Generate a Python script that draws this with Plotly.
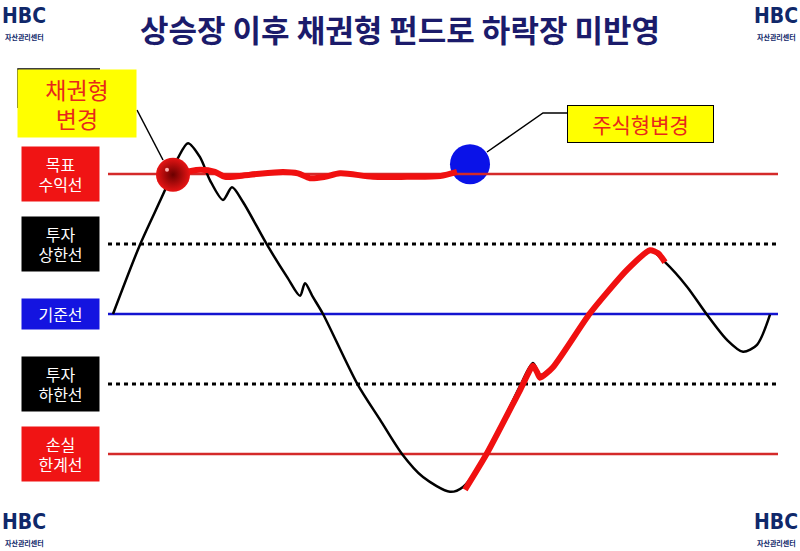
import plotly.graph_objects as go

# levels (in band units, baseline = 0)
level_names = ['목표<br>수익선', '투자<br>상한선', '기준선', '투자<br>하한선', '손실<br>한계선']
level_values = [2, 1, 0, -1, -2]

# market path
market_t = [113, 140, 165, 178, 188, 200, 210, 223, 232, 243, 267, 287, 300, 305, 313, 323,
            357, 380, 402, 423, 450, 463, 487, 520, 533, 540, 553, 590, 627, 650, 665, 687,
            707, 727, 743, 757, 770]
market_v = [0.00, 0.99, 1.77, 2.23, 2.44, 2.24, 1.91, 1.63, 1.81, 1.60, 0.99, 0.53, 0.26, 0.44, 0.24, 0.00,
            -0.99, -1.51, -2.00, -2.33, -2.54, -2.47, -1.99, -1.03, -0.70, -0.87, -0.74, 0.01, 0.63, 0.91, 0.74, 0.39,
            -0.01, -0.37, -0.54, -0.44, -0.01]

# bond fund segment (flat near target)
bond_t = [175, 200, 215, 225, 250, 283, 298, 310, 325, 340, 373, 407, 440, 457]
bond_v = [1.99, 2.06, 2.03, 1.96, 1.99, 2.03, 2.01, 1.94, 1.96, 2.01, 1.96, 1.96, 1.97, 2.03]

# equity fund segment (rebound)
equity_t = [465, 487, 520, 533, 537, 540, 553, 590, 627, 650, 658, 665]
equity_v = [-2.51, -1.99, -1.09, -0.74, -0.83, -0.91, -0.76, 0.01, 0.63, 0.91, 0.87, 0.74]

# switch points
bond_switch = (173, 1.99)
equity_switch = (470, 2.14)

title_text = '상승장 이후 채권형 펀드로 하락장 미반영'
KR = 'Noto Sans CJK KR'


def yv(py):
    # pixel row -> band units (70px per band, baseline at row 314)
    return (314 - py) / 70


fig = go.Figure()

fig.add_trace(go.Scatter(x=[equity_switch[0]], y=[equity_switch[1]], mode='markers',
                         marker=dict(size=40, color='#0a12e8', line=dict(width=0))))

level_styles = [dict(color='#d42a2a', width=2.5), dict(color='black', width=3, dash='4px,4px'),
                dict(color='#1414d0', width=2.5), dict(color='black', width=3, dash='4px,4px'),
                dict(color='#d42a2a', width=2.5)]
for v, st in zip(level_values, level_styles):
    fig.add_trace(go.Scatter(x=[108, 778], y=[v, v], mode='lines', line=st))

fig.add_trace(go.Scatter(x=market_t, y=market_v, mode='lines',
                         line=dict(color='black', width=2.5, shape='spline', smoothing=0.8)))
fig.add_trace(go.Scatter(x=bond_t, y=bond_v, mode='lines',
                         line=dict(color='#f01010', width=6, shape='spline', smoothing=0.8)))
fig.add_trace(go.Scatter(x=equity_t, y=equity_v, mode='lines',
                         line=dict(color='#f01010', width=6, shape='spline', smoothing=0.6)))

fig.add_trace(go.Scatter(x=[bond_switch[0]], y=[bond_switch[1]], mode='markers',
                         marker=dict(size=34, color='#e81414',
                                     gradient=dict(type='radial', color='#6a0000'),
                                     line=dict(width=0))))
fig.add_trace(go.Scatter(x=[bond_switch[0] - 6], y=[bond_switch[1] + 0.07], mode='markers',
                         marker=dict(size=4, color='#ffb0b0')))

# leader lines
fig.add_shape(type='line', x0=137, y0=yv(110), x1=163, y1=yv(160), line=dict(color='black', width=1.5))
fig.add_shape(type='path', path=f'M 487,{yv(152)} L 543,{yv(113)} L 567,{yv(113)}',
              line=dict(color='black', width=1.5))
fig.add_shape(type='path', path=f'M 18,{yv(108)} L 18,{yv(69)} L 100,{yv(69)}',
              line=dict(color='black', width=1.5))

box_colors = ['#f01414', 'black', '#1414e0', 'black', '#f01414']
for name, v, c in zip(level_names, level_values, box_colors):
    h = 30 if '<br>' not in name else 54
    fig.add_annotation(x=60.5, y=v, text=name, showarrow=False, width=77, height=h,
                       bgcolor=c, borderpad=0, font=dict(family=KR, size=16, color='white'))

fig.add_annotation(x=77, y=yv(103), text='채권형<br>변경', showarrow=False, width=118, height=67,
                   bgcolor='#ffff00', borderpad=0, font=dict(family=KR, size=23, color='#e8281a'))
fig.add_annotation(x=640, y=yv(124), text='주식형변경', showarrow=False, width=145, height=36,
                   bgcolor='#ffff00', bordercolor='black', borderwidth=1, borderpad=0,
                   font=dict(family=KR, size=21, color='#e8281a'))

fig.add_annotation(xref='paper', yref='paper', x=0.5, y=1 - 28 / 551, xanchor='center', yanchor='middle',
                   text=f'<b>{title_text}</b>', showarrow=False,
                   font=dict(family=KR, size=31, color='#1b1b6b'))

for lx, ly in [(24, 16), (776, 16), (24, 522), (776, 522)]:
    fig.add_annotation(xref='paper', yref='paper', x=lx / 800, y=1 - ly / 551, xanchor='center',
                       yanchor='middle', text='<b>HBC</b>', showarrow=False,
                       font=dict(family='DejaVu Sans Condensed', size=21, color='#10286a'))
    fig.add_annotation(xref='paper', yref='paper', x=lx / 800, y=1 - (ly + 21) / 551, xanchor='center',
                       yanchor='middle', text='<b>자산관리센터</b>', showarrow=False,
                       font=dict(family=KR, size=7, color='#10286a'))

fig.update_layout(width=800, height=551, margin=dict(l=0, r=0, t=0, b=0), showlegend=False,
                  plot_bgcolor='white', paper_bgcolor='white')
fig.update_xaxes(range=[0, 800], visible=False)
fig.update_yaxes(range=[yv(551), yv(0)], visible=False)

fig.write_html('out.html', config={'displayModeBar': False},
               post_script="document.body.style.margin='0';")
